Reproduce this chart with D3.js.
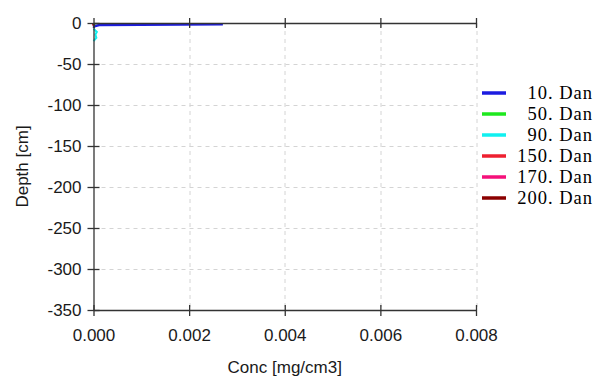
<!DOCTYPE html>
<html>
<head>
<meta charset="utf-8">
<script src="https://cdn.jsdelivr.net/npm/d3@7/dist/d3.min.js"></script>
<style>
    body { margin: 0; background: #fff; }
    svg { display: block; }
</style>
</head>
<body>
<div id="grafico"></div>
<script>
// Datos (conc en mg/cm3, profundidad en cm)
let series = ["10. Dan", "50. Dan", "90. Dan", "150. Dan", "170. Dan", "200. Dan"];
let colores = ["#1c1ce0", "#1ee81e", "#10f0f0", "#ee2030", "#f5107a", "#8b0000"];

let prof_10 = [0, -1.5, -2.5, -4, -6];
let conc_10 = [0.00268, 0.00268, 0.00012, 0.00002, 0];
let prof_50 = [-1, -2, -3];
let conc_50 = [0.00003, 0.00001, 0];
let prof_90 = [-7, -11, -14, -18, -22];
let conc_90 = [0, 0.00007, 0.00004, 0.00006, 0];
let prof_150 = [-1, -3];
let conc_150 = [0, 0];
let prof_170 = [-1, -3];
let conc_170 = [0, 0];
let prof_200 = [-1, -3];
let conc_200 = [0, 0];

let ticks_x = [0, 0.002, 0.004, 0.006, 0.008];
let ticks_y = [0, -50, -100, -150, -200, -250, -300, -350];

let perfiles = [
    [prof_10, conc_10], [prof_50, conc_50], [prof_90, conc_90],
    [prof_150, conc_150], [prof_170, conc_170], [prof_200, conc_200]
];

let ancho = 597, alto = 376;
let margin = {top: 23, right: 121, bottom: 66, left: 93.5};
let width = ancho - margin.left - margin.right,
    height = alto - margin.top - margin.bottom;

let svg = d3.select("#grafico")
    .append("svg")
    .attr("width", ancho)
    .attr("height", alto);

let g = svg.append("g")
    .attr("transform", "translate(" + margin.left + "," + margin.top + ")");

let x = d3.scaleLinear().domain([0, 0.008]).range([0, width]);
let y = d3.scaleLinear().domain([-350, 0]).range([height, 0]);

// Rejilla discontinua
g.append("g")
    .selectAll("line")
    .data(ticks_x.slice(1))
    .enter()
    .append("line")
    .attr("x1", d => Math.round(x(d)) + 0.5)
    .attr("x2", d => Math.round(x(d)) + 0.5)
    .attr("y1", 0)
    .attr("y2", height)
    .attr("stroke", "#d4d4d4")
    .attr("stroke-dasharray", "4,4");

g.append("g")
    .selectAll("line")
    .data(ticks_y.slice(1, -1))
    .enter()
    .append("line")
    .attr("x1", 0)
    .attr("x2", width)
    .attr("y1", d => Math.round(y(d)) + 0.5)
    .attr("y2", d => Math.round(y(d)) + 0.5)
    .attr("stroke", "#d4d4d4")
    .attr("stroke-dasharray", "4,4");

// Perfiles
let linea = d3.line()
    .x(d => x(d[1]))
    .y(d => y(d[0]));

for (let i = 0; i < perfiles.length; i++) {
    let puntos = perfiles[i][0].map((p, j) => [p, perfiles[i][1][j]]);
    g.append("path")
        .datum(puntos)
        .attr("fill", "none")
        .attr("stroke", colores[i])
        .attr("stroke-width", i === 0 ? 2.5 : 2)
        .attr("d", linea);
}

// Ejes
function estiloEje(sel) {
    sel.select(".domain").attr("stroke", "#333").attr("stroke-width", 1.3);
    sel.selectAll(".tick line").attr("stroke", "#333").attr("stroke-width", 1.3);
    sel.selectAll(".tick text")
        .attr("fill", "#1a1a1a")
        .style("font-family", "'Liberation Sans', Arial, sans-serif")
        .style("font-size", "17px");
}

let ejeX = g.append("g")
    .attr("transform", "translate(0," + height + ")")
    .call(d3.axisBottom(x).tickValues(ticks_x).tickFormat(d3.format(".3f"))
        .tickSizeInner(6).tickSizeOuter(0).tickPadding(13));
ejeX.selectAll(".tick line").attr("y1", -5);
estiloEje(ejeX);

let ejeArriba = g.append("g")
    .call(d3.axisBottom(x).tickValues(ticks_x).tickFormat("")
        .tickSizeInner(5).tickSizeOuter(0));
ejeArriba.selectAll(".tick line").attr("y1", -5);
estiloEje(ejeArriba);

let ejeY = g.append("g")
    .call(d3.axisLeft(y).tickValues(ticks_y).tickFormat(d3.format("d"))
        .tickSizeInner(6).tickSizeOuter(0).tickPadding(6));
ejeY.selectAll(".tick line").attr("x1", 6);
estiloEje(ejeY);
ejeY.selectAll(".tick text").text(d => d === 0 ? "0" : String(d).replace("\u2212", "-"));

//Etiqueta eje X
svg.append("text")
    .attr("text-anchor", "middle")
    .attr("x", margin.left + width / 2)
    .attr("y", 373)
    .style("font-family", "'Liberation Sans', Arial, sans-serif")
    .style("font-size", "17px")
    .attr("fill", "#1a1a1a")
    .text("Conc [mg/cm3]");

//Etiqueta eje Y
svg.append("text")
    .attr("text-anchor", "middle")
    .attr("transform", "translate(28," + (margin.top + height / 2) + ") rotate(-90)")
    .style("font-family", "'Liberation Sans', Arial, sans-serif")
    .style("font-size", "17px")
    .attr("fill", "#1a1a1a")
    .text("Depth [cm]");

// Leyenda
let leyenda = svg.append("g").attr("id", "leyenda");
leyenda.selectAll("line")
    .data(series)
    .enter()
    .append("line")
    .attr("x1", 482)
    .attr("x2", 506)
    .attr("y1", (d, i) => 93 + i * 21)
    .attr("y2", (d, i) => 93 + i * 21)
    .attr("stroke", (d, i) => colores[i])
    .attr("stroke-width", 3.5);

leyenda.selectAll("text")
    .data(series)
    .enter()
    .append("text")
    .attr("x", 593)
    .attr("y", (d, i) => 99 + i * 21)
    .attr("text-anchor", "end")
    .style("font-family", "'Liberation Serif', 'Times New Roman', serif")
    .style("font-size", "18.5px")
    .style("letter-spacing", "1px")
    .attr("fill", "#000")
    .text(d => d);
</script>
</body>
</html>
